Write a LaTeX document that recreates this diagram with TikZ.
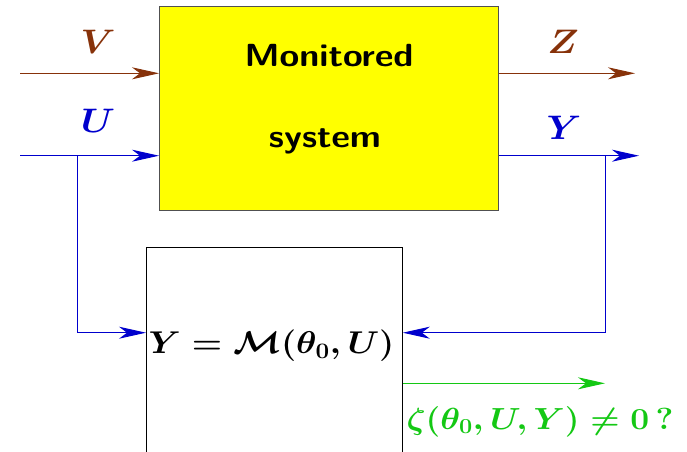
\RequirePackage{fix-cm}
\documentclass[tikz,border=0pt]{standalone}
\usetikzlibrary{arrows.meta}
\definecolor{brn}{RGB}{135,50,10}
\definecolor{blu}{RGB}{0,0,205}
\definecolor{grn}{RGB}{20,200,20}
\definecolor{ylw}{RGB}{255,255,0}
\definecolor{boxgray}{RGB}{80,80,80}
\newcommand{\hs}[2]{\scalebox{#1}[1]{#2}}
\begin{document}
\begin{tikzpicture}[x=1pt,y=-1pt,
  >={Stealth[length=27pt,width=12pt,inset=8pt]},
  txt/.style={anchor=base,inner sep=0pt},
  brnline/.style={draw=brn,line width=1pt},
  bluline/.style={draw=blu,line width=1pt},
  grnline/.style={draw=grn,line width=1pt},
  lbl/.style={txt,font=\fontsize{34}{40}\selectfont}]
\useasboundingbox (0,0) rectangle (687,451);
\node[draw=boxgray,line width=1.2pt,fill=ylw,minimum width=339pt,minimum height=204pt,inner sep=0pt,anchor=north west] (sys) at (159,6) {};
\node[txt,font=\fontsize{32}{38}\selectfont\sffamily\bfseries] (t1) at (329,66.7) {\hs{1.12}{Monitored}};
\node[txt,font=\fontsize{32}{38}\selectfont\sffamily\bfseries] (t2) at (325,147.3) {\hs{1.12}{system}};
\node[draw,line width=0.8pt,minimum width=256pt,minimum height=240pt,inner sep=0pt,anchor=north west] (mod) at (146,247) {};
\node[txt,font=\fontsize{31.5}{38}\selectfont] (eq) at (271.5,353.3) {\hs{1.1}{\boldmath$Y=\mathcal{M}(\theta_0,U)$}};
\coordinate (vin) at (20,73.3);
\coordinate (zout) at (635,73.3);
\coordinate (uin) at (20,155.7);
\coordinate (ub) at (77,155.7);
\coordinate (yb) at (605,155.7);
\coordinate (yout) at (639,155.7);
\coordinate (fb) at (0,332.7);
\coordinate (gout) at (605,383.3);
\draw[brnline,->] (vin) -- (sys.west|-vin);
\draw[brnline,->] (sys.east|-zout) -- (zout);
\draw[bluline,->] (uin) -- (sys.west|-uin);
\draw[bluline,->] (sys.east|-yout) -- (yout);
\draw[bluline,->] (ub) |- (mod.west|-fb);
\draw[bluline,->] (yb) |- (mod.east|-fb);
\draw[grnline,->] (mod.east|-gout) -- (gout);
\node[lbl,text=brn] (lv) at (98,53) {\hs{1.1}{\boldmath$V$}};
\node[lbl,text=blu] (lu) at (98,132) {\hs{1.1}{\boldmath$U$}};
\node[lbl,text=brn] (lz) at (563,53.3) {\hs{1.1}{\boldmath$Z$}};
\node[lbl,text=blu] (ly) at (564,139) {\hs{1.1}{\boldmath$Y$}};
\node[txt,text=grn,font=\fontsize{30.5}{36}\selectfont] (zeta) at (540,429) {\hs{1.1}{\boldmath$\zeta(\theta_0,U,Y)\neq 0\,$\bfseries ?}};
\end{tikzpicture}
\end{document}
